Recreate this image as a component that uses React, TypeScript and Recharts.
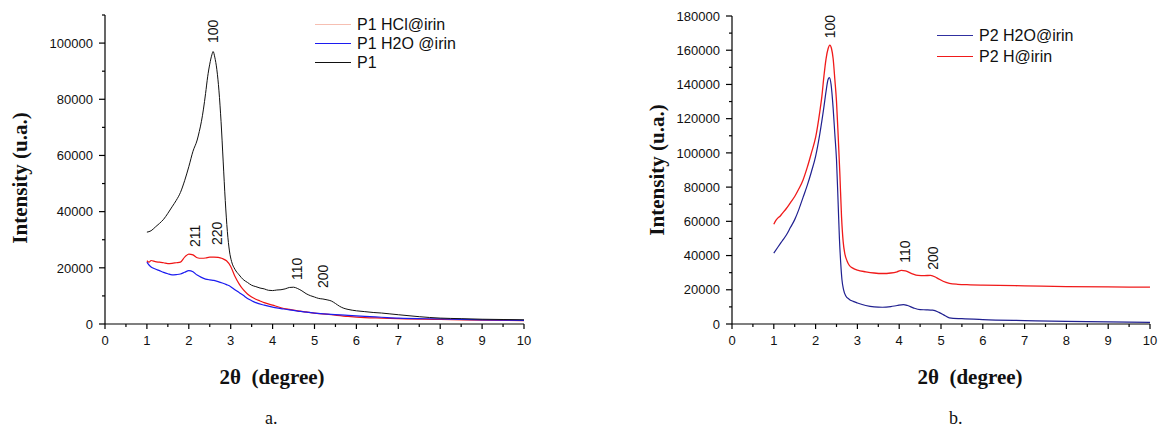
import React from 'react';
import {
  LineChart,
  Line,
  XAxis,
  YAxis,
  Legend,
  ReferenceDot,
  Label,
} from 'recharts';

type Pt = { x: number; y: number };

const pts = (rows: number[][]): Pt[] => rows.map(([x, y]) => ({ x, y }));

// panel a
const p1: Pt[] = pts([
  [1.0, 32700], [1.1, 33200], [1.2, 34500], [1.3, 35800], [1.4, 37300], [1.5, 39400],
  [1.6, 41700], [1.7, 44000], [1.8, 46800], [1.9, 51000], [2.0, 56000], [2.1, 61500],
  [2.2, 65500], [2.25, 68500], [2.3, 72000], [2.35, 76500], [2.4, 82000], [2.45, 88000],
  [2.5, 92500], [2.55, 95800], [2.58, 97000], [2.62, 95000], [2.67, 90500], [2.72, 83000],
  [2.77, 72000], [2.82, 58000], [2.87, 44000], [2.92, 33000], [2.97, 26000], [3.02, 22300],
  [3.1, 19500], [3.2, 17500], [3.3, 15800], [3.4, 14800], [3.5, 13800], [3.6, 13300],
  [3.7, 12800], [3.8, 12500], [3.9, 12000], [4.0, 11900], [4.1, 12100], [4.2, 12200],
  [4.3, 12500], [4.4, 13000], [4.5, 13100], [4.6, 12600], [4.7, 11800], [4.8, 10800],
  [4.9, 10100], [5.0, 9600], [5.1, 9100], [5.2, 8900], [5.3, 8600], [5.4, 8200],
  [5.5, 7300], [5.6, 6300], [5.7, 5600], [5.8, 5200], [6.0, 4700], [6.2, 4400],
  [6.4, 4100], [6.6, 3900], [6.8, 3600], [7.0, 3300], [7.5, 2600], [8.0, 2100],
  [8.5, 1900], [9.0, 1700], [9.5, 1600], [10.0, 1500],
]);

const p1Hcl: Pt[] = pts([
  [1.0, 22500], [1.05, 22000], [1.1, 22600], [1.2, 22200], [1.3, 22000], [1.4, 21800],
  [1.5, 21500], [1.6, 21600], [1.7, 21800], [1.8, 22000], [1.9, 23800], [2.0, 24900],
  [2.1, 24600], [2.2, 23600], [2.3, 23400], [2.4, 23500], [2.5, 23800], [2.6, 23800],
  [2.7, 23700], [2.8, 23300], [2.9, 22500], [3.0, 20500], [3.1, 17000], [3.2, 14300],
  [3.3, 12200], [3.4, 10700], [3.5, 9600], [3.6, 8800], [3.7, 8200], [3.8, 7600],
  [4.0, 6700], [4.2, 5800], [4.4, 5200], [4.6, 4700], [4.8, 4300], [5.0, 3900],
  [5.4, 3300], [5.8, 2700], [6.2, 2300], [6.6, 2100], [7.0, 1900], [8.0, 1600],
  [9.0, 1400], [10.0, 1200],
]);

const p1H2o: Pt[] = pts([
  [1.0, 22000], [1.05, 21000], [1.1, 20300], [1.2, 19600], [1.3, 19000], [1.4, 18400],
  [1.5, 17900], [1.6, 17500], [1.7, 17600], [1.8, 17800], [1.9, 18400], [2.0, 19000],
  [2.1, 18600], [2.2, 17400], [2.3, 16600], [2.4, 16000], [2.5, 15700], [2.6, 15500],
  [2.7, 15100], [2.8, 14600], [2.9, 14000], [3.0, 13300], [3.1, 12200], [3.2, 11200],
  [3.3, 10200], [3.4, 9100], [3.5, 8300], [3.6, 7600], [3.8, 6700], [4.0, 6000],
  [4.2, 5500], [4.4, 5000], [4.6, 4600], [4.8, 4200], [5.0, 3900], [5.4, 3400],
  [5.8, 3100], [6.2, 2700], [6.6, 2400], [7.0, 2100], [8.0, 1800], [9.0, 1500],
  [10.0, 1300],
]);

// panel b
const p2H: Pt[] = pts([
  [1.0, 58300], [1.05, 60500], [1.1, 62000], [1.15, 63000], [1.2, 64500], [1.3, 67500],
  [1.4, 71000], [1.5, 74500], [1.6, 79000], [1.7, 84200], [1.8, 91500], [1.9, 100000],
  [2.0, 109000], [2.1, 124000], [2.15, 133000], [2.2, 145000], [2.25, 155000], [2.3, 161000],
  [2.34, 163000], [2.38, 161000], [2.42, 155000], [2.46, 143000], [2.5, 130000], [2.54, 110000],
  [2.58, 88000], [2.62, 63000], [2.66, 48000], [2.7, 41000], [2.75, 37000], [2.8, 34500],
  [2.9, 32500], [3.0, 31500], [3.2, 30500], [3.4, 29800], [3.6, 29500], [3.8, 29800],
  [3.95, 30500], [4.05, 31300], [4.15, 31000], [4.3, 29500], [4.45, 28400], [4.6, 28300],
  [4.75, 28400], [4.9, 27000], [5.05, 25000], [5.2, 23800], [5.4, 23200], [5.7, 22900],
  [6.0, 22700], [7.0, 22300], [8.0, 21900], [9.0, 21700], [10.0, 21500],
]);

const p2H2o: Pt[] = pts([
  [1.0, 41400], [1.1, 45000], [1.2, 48500], [1.3, 52000], [1.4, 56500], [1.5, 61000],
  [1.6, 67000], [1.7, 74000], [1.8, 81000], [1.9, 89000], [2.0, 98000], [2.1, 111000],
  [2.2, 127000], [2.25, 136000], [2.3, 143000], [2.33, 144000], [2.37, 140000], [2.42, 126000],
  [2.46, 111000], [2.5, 96000], [2.54, 70000], [2.57, 50000], [2.6, 36000], [2.63, 26000],
  [2.67, 20000], [2.72, 16500], [2.8, 14500], [2.9, 13200], [3.0, 12300], [3.2, 10800],
  [3.4, 10000], [3.6, 9800], [3.8, 10200], [3.95, 10800], [4.1, 11300], [4.2, 10800],
  [4.35, 9300], [4.5, 8400], [4.65, 8300], [4.8, 8100], [4.95, 6800], [5.1, 4800],
  [5.2, 3600], [5.5, 3100], [6.0, 2600], [7.0, 2000], [8.0, 1500], [9.0, 1200],
  [10.0, 900],
]);

// peak labels (x, intensity at the foot of the text)
const peaksA = [
  { x: 2.58, y: 100000, text: '100' },
  { x: 2.15, y: 27400, text: '211' },
  { x: 2.67, y: 28100, text: '220' },
  { x: 4.58, y: 15700, text: '110' },
  { x: 5.2, y: 12800, text: '200' },
];
const peaksB = [
  { x: 2.34, y: 167000, text: '100' },
  { x: 4.14, y: 35800, text: '110' },
  { x: 4.8, y: 31700, text: '200' },
];

const xTicks = Array.from({ length: 21 }, (_, i) => i / 2);
const yTicksA = Array.from({ length: 12 }, (_, i) => i * 10000);
const yTicksB = Array.from({ length: 19 }, (_, i) => i * 10000);

const SANS = '"Liberation Sans", Arial, sans-serif';
const SERIF = '"Liberation Serif", "Times New Roman", serif';

const XTick = (props: any) => {
  const { x, y, payload } = props;
  const major = Number.isInteger(payload.value);
  return (
    <g>
      <line x1={x} y1={y} x2={x} y2={y + (major ? 5 : 3)} stroke="#000" strokeWidth={1.2} />
      {major && (
        <text x={x} y={y + 21} textAnchor="middle" fontSize={13} fontFamily={SANS} fill="#111">
          {payload.value}
        </text>
      )}
    </g>
  );
};

const YTick = (props: any) => {
  const { x, y, payload } = props;
  const major = payload.value % 20000 === 0;
  return (
    <g>
      <line x1={x} y1={y} x2={x - (major ? 6 : 3)} y2={y} stroke="#000" strokeWidth={1.2} />
      {major && (
        <text x={x - 12} y={y + 4.7} textAnchor="end" fontSize={13} fontFamily={SANS} fill="#111">
          {payload.value}
        </text>
      )}
    </g>
  );
};

type Series = { name: string; data: Pt[]; color: string; legendColor: string; width: number };

interface PanelProps {
  left: number;
  width: number;
  marginLeft: number;
  marginRight: number;
  marginTop: number;
  yMax: number;
  yTicks: number[];
  series: Series[];
  peaks: { x: number; y: number; text: string }[];
  legendPos: { left: number; top: number; rowH: number };
  yTitle: { x: number; y: number };
  xTitleX: number;
}

const Panel: React.FC<PanelProps> = (p) => {
  const renderLegend = () => (
    <div style={{ fontFamily: SANS, fontSize: 16, color: '#111' }}>
      {p.series.map((s) => (
        <div key={s.name} style={{ display: 'flex', alignItems: 'center', height: p.legendPos.rowH, whiteSpace: 'pre' }}>
          <span style={{ display: 'inline-block', width: 36, borderTop: `1.3px solid ${s.legendColor}` }} />
          <span style={{ marginLeft: 6 }}>{s.name}</span>
        </div>
      ))}
    </div>
  );

  return (
    <div style={{ position: 'absolute', left: p.left, top: 0 }}>
      <LineChart
        width={p.width}
        height={429}
        margin={{ top: p.marginTop, right: p.marginRight, left: p.marginLeft, bottom: 75 }}
      >
        <XAxis
          type="number"
          dataKey="x"
          domain={[0, 10]}
          ticks={xTicks}
          interval={0}
          tickSize={0}
          tickMargin={0}
          tick={<XTick />}
          stroke="#000"
          strokeWidth={1.2}
          height={30}
        >
          <Label
            content={() => (
              <text
                x={p.xTitleX}
                y={384}
                textAnchor="middle"
                fontFamily={SERIF}
                fontWeight="bold"
                fontSize={21}
                fill="#111"
                style={{ whiteSpace: 'pre' }}
              >
                {'2θ  (degree)'}
              </text>
            )}
          />
        </XAxis>
        <YAxis
          type="number"
          domain={[0, p.yMax]}
          ticks={p.yTicks}
          interval={0}
          tickSize={0}
          tickMargin={0}
          tick={<YTick />}
          stroke="#000"
          strokeWidth={1.2}
          width={100}
        >
          <Label
            content={() => (
              <text
                x={p.yTitle.x}
                y={p.yTitle.y}
                transform={`rotate(-90 ${p.yTitle.x} ${p.yTitle.y})`}
                textAnchor="middle"
                dominantBaseline="central"
                fontFamily={SERIF}
                fontWeight="bold"
                fontSize={21}
                fill="#111"
              >
                Intensity (u.a.)
              </text>
            )}
          />
        </YAxis>
        <Legend
          layout="vertical"
          align="center"
          verticalAlign="middle"
          wrapperStyle={{ left: p.legendPos.left, top: p.legendPos.top, width: 220, height: 'auto' }}
          content={renderLegend}
        />
        {p.series.map((s) => (
          <Line
            key={s.name}
            data={s.data}
            dataKey="y"
            name={s.name}
            type="monotone"
            stroke={s.color}
            strokeWidth={s.width}
            dot={false}
            activeDot={false}
            isAnimationActive={false}
          />
        ))}
        {p.peaks.map((pk) => (
          <ReferenceDot
            key={pk.text + pk.x}
            x={pk.x}
            y={pk.y}
            r={0}
            shape={(sp: any) => (
              <text
                x={sp.cx}
                y={sp.cy}
                transform={`rotate(-90 ${sp.cx} ${sp.cy})`}
                textAnchor="start"
                dominantBaseline="central"
                fontFamily={SANS}
                fontSize={14}
                fill="#111"
              >
                {pk.text}
              </text>
            )}
          />
        ))}
      </LineChart>
    </div>
  );
};

const seriesA: Series[] = [
  { name: 'P1 HCl@irin', data: p1Hcl, color: '#f01414', legendColor: '#f6bfb2', width: 1.2 },
  { name: 'P1 H2O @irin', data: p1H2o, color: '#1c1cf0', legendColor: '#1c1cf0', width: 1.2 },
  { name: 'P1', data: p1, color: '#111111', legendColor: '#111111', width: 1 },
];

const seriesB: Series[] = [
  { name: 'P2 H2O@irin', data: p2H2o, color: '#202090', legendColor: '#3030a0', width: 1.2 },
  { name: 'P2 H@irin', data: p2H, color: '#f01a1a', legendColor: '#f01a1a', width: 1.3 },
];

export default function App() {
  return (
    <div style={{ position: 'absolute', left: 0, top: 0, width: 1160, height: 429, background: '#fff', overflow: 'hidden' }}>
      <Panel
        left={0}
        width={560}
        marginLeft={5}
        marginRight={36}
        marginTop={15}
        yMax={110000}
        yTicks={yTicksA}
        series={seriesA}
        peaks={peaksA}
        legendPos={{ left: 315, top: 15, rowH: 19 }}
        yTitle={{ x: 19.5, y: 178 }}
        xTitleX={272}
      />
      <Panel
        left={580}
        width={580}
        marginLeft={52}
        marginRight={10}
        marginTop={16}
        yMax={180000}
        yTicks={yTicksB}
        series={seriesB}
        peaks={peaksB}
        legendPos={{ left: 357, top: 25, rowH: 21 }}
        yTitle={{ x: 77, y: 170 }}
        xTitleX={390}
      />
      <div style={{ position: 'absolute', left: 265, top: 408, fontFamily: SERIF, fontSize: 18, color: '#111' }}>a.</div>
      <div style={{ position: 'absolute', left: 949, top: 408, fontFamily: SERIF, fontSize: 18, color: '#111' }}>b.</div>
    </div>
  );
}
